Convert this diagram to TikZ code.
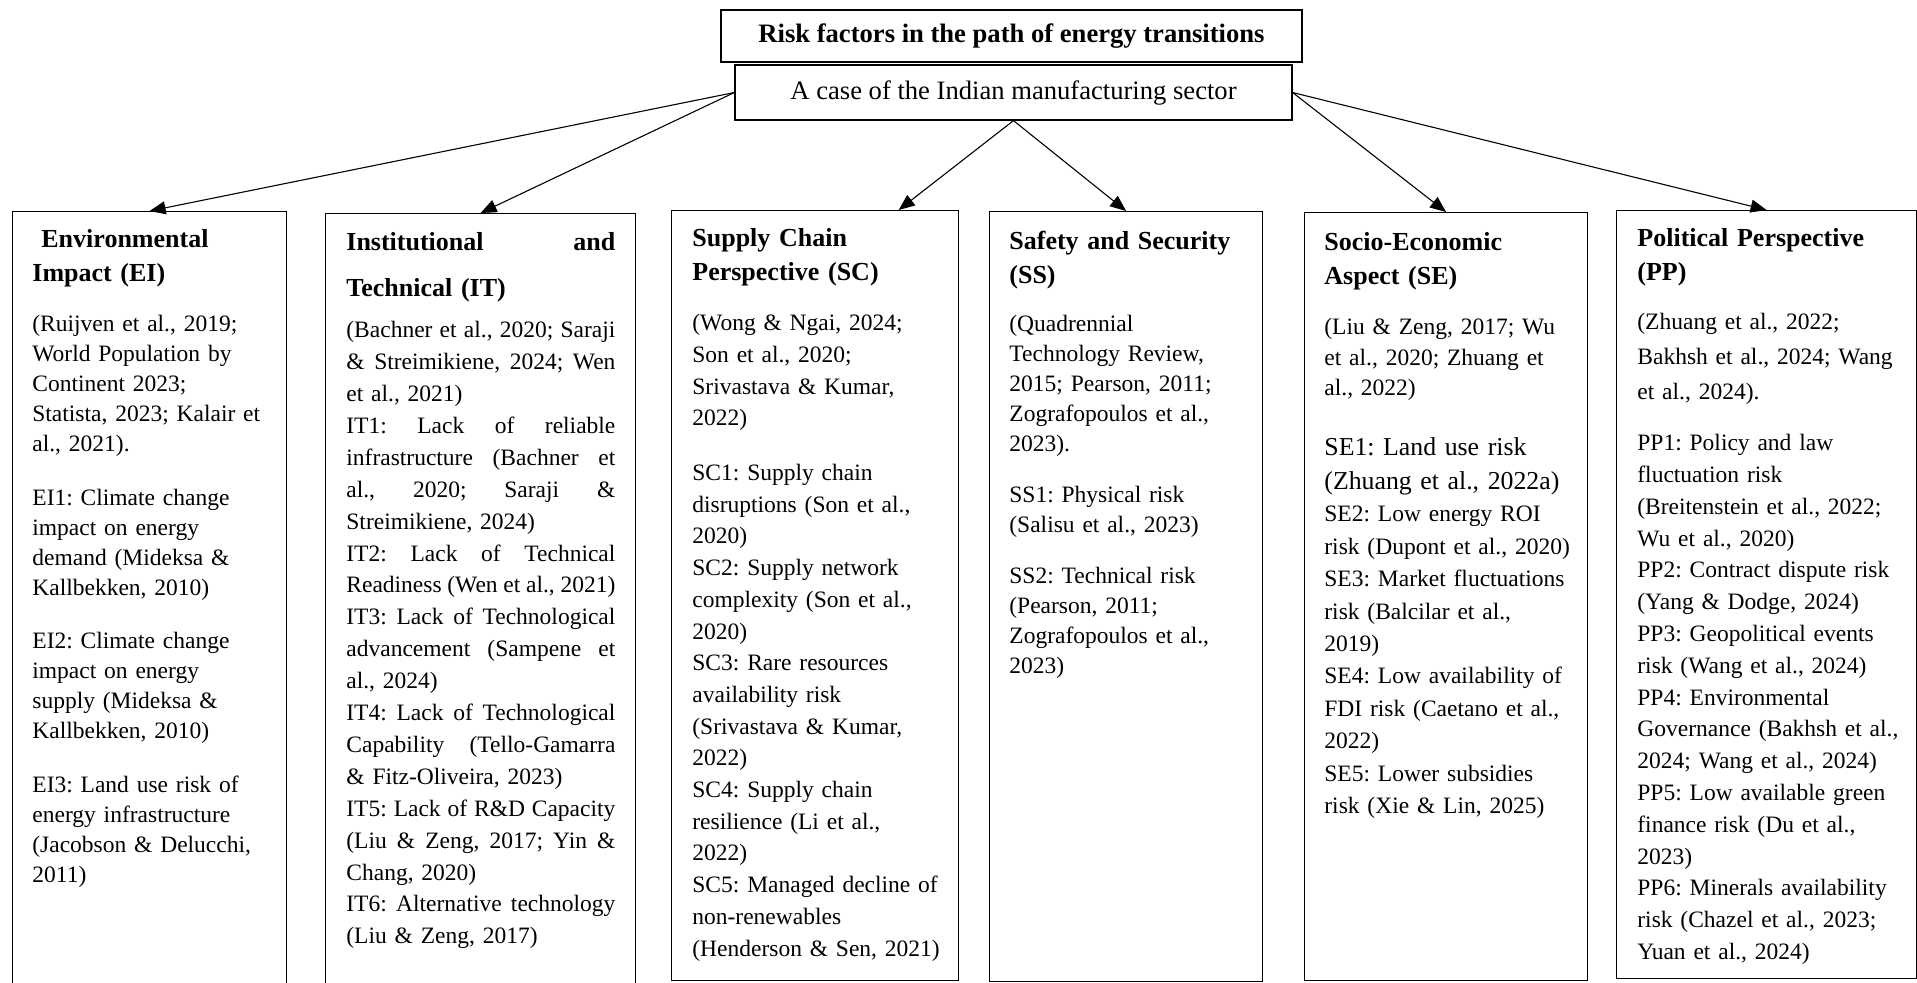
\documentclass[tikz,border=0pt]{standalone}
\usepackage{fontspec}
\setmainfont{Liberation Serif}
\usetikzlibrary{arrows.meta,calc}

% a line whose interword spaces stretch to the full column width
\newcommand\jl[1]{{\spaceskip=0.25em plus 1fil minus 0.09em\makebox[134.5pt][s]{#1}}}

\tikzset{
  frame/.style={draw, line width=0.6pt, inner sep=0pt, anchor=north west},
  titlebox/.style={draw, line width=0.6pt, inner sep=0pt},
  head/.style={anchor=north west, inner sep=0pt, align=left, text width=150pt,
    font=\fontsize{13}{17}\selectfont\bfseries},
  body/.style={anchor=north west, inner sep=0pt, align=left, text width=150pt},
  link/.style={line width=0.55pt, -{Triangle[length=8pt,width=6.5pt]}},
}

\begin{document}
\frenchspacing
\begin{tikzpicture}[x=0.5pt, y=-0.5pt]
\useasboundingbox (0,0) rectangle (1917,982);
\clip (0,0) rectangle (1917,982);

% title and subtitle
\node[titlebox, minimum width=290.5pt, minimum height=26pt,
      font=\fontsize{13.3}{16}\selectfont\bfseries] (title) at (1011.5,36)
      {Risk factors in the path of energy transitions};
\node[titlebox, minimum width=278.5pt, minimum height=27.5pt,
      font=\fontsize{13.3}{16}\selectfont, fill=white] (sub) at (1013.5,92.5)
      {A case of the Indian manufacturing sector};

% category frames
\node[frame, minimum width=137pt,   minimum height=389.5pt] (ei) at (12,211) {};
\node[frame, minimum width=155pt,   minimum height=389.5pt] (it) at (325,213) {};
\node[frame, minimum width=143.5pt, minimum height=385pt]   (sc) at (671,210) {};
\node[frame, minimum width=136.5pt, minimum height=385pt]   (ss) at (989,211) {};
\node[frame, minimum width=141.5pt, minimum height=384pt]   (se) at (1304,212) {};
\node[frame, minimum width=150pt,   minimum height=384pt]   (pp) at (1616,210) {};

\coordinate (scin) at ($(sc.north west)!0.79!(sc.north east)$);

% connectors
\draw[link] (sub.west)  -- (ei.north);
\draw[link] (sub.west)  -- (it.north);
\draw[link] (sub.south) -- (scin);
\draw[link] (sub.south) -- (ss.north);
\draw[link] (sub.east)  -- (se.north);
\draw[link] (sub.east)  -- (pp.north);

% Environmental Impact
\node[head] (eih) at (32,229.5) {\hspace{4.5pt}Environmental\\Impact (EI)};
\node[body, font=\fontsize{11.75}{15}\selectfont] (eib) at (32,315) {%
(Ruijven et al., 2019;\\ World Population by\\ Continent 2023;\\ Statista, 2023; Kalair et\\ al., 2021).\par\vspace{11.8pt}
EI1: Climate change\\ impact on energy\\ demand (Mideksa \&\\ Kallbekken, 2010)\par\vspace{11.8pt}
EI2: Climate change\\ impact on energy\\ supply (Mideksa \&\\ Kallbekken, 2010)\par\vspace{11.8pt}
EI3: Land use risk of\\ energy infrastructure\\ (Jacobson \& Delucchi,\\ 2011)};

% Institutional and Technical
\node[head, text width=134.5pt, font=\fontsize{13}{23}\selectfont\bfseries] (ith) at (346,232)
  {Institutional\hfill and\\Technical (IT)};
\node[body, text width=134.5pt, font=\fontsize{11.75}{15.95}\selectfont] (itb) at (346,321) {%
\jl{(Bachner et al., 2020; Saraji}\\ \jl{\& Streimikiene, 2024; Wen}\\ et al., 2021)\\
\jl{IT1: Lack of reliable}\\ \jl{infrastructure (Bachner et}\\ \jl{al., 2020; Saraji \&}\\ Streimikiene, 2024)\\
\jl{IT2: Lack of Technical}\\ \jl{Readiness (Wen et al., 2021)}\\
\jl{IT3: Lack of Technological}\\ \jl{advancement (Sampene et}\\ al., 2024)\\
\jl{IT4: Lack of Technological}\\ \jl{Capability (Tello-Gamarra}\\ \& Fitz-Oliveira, 2023)\\
\jl{IT5: Lack of R\&D Capacity}\\ \jl{(Liu \& Zeng, 2017; Yin \&}\\ Chang, 2020)\\
\jl{IT6: Alternative technology}\\ (Liu \& Zeng, 2017)};

% Supply Chain Perspective
\node[head] (sch) at (692,228) {Supply Chain\\Perspective (SC)};
\node[body, font=\fontsize{11.75}{15.85}\selectfont] (scb) at (692,314) {%
(Wong \& Ngai, 2024;\\ Son et al., 2020;\\ Srivastava \& Kumar,\\ 2022)\par\vspace{11.5pt}
SC1: Supply chain\\ disruptions (Son et al.,\\ 2020)\\
SC2: Supply network\\ complexity (Son et al.,\\ 2020)\\
SC3: Rare resources\\ availability risk\\ (Srivastava \& Kumar,\\ 2022)\\
SC4: Supply chain\\ resilience (Li et al.,\\ 2022)\\
SC5: Managed decline of\\ non-renewables\\ (Henderson \& Sen, 2021)};

% Safety and Security
\node[head] (ssh) at (1009,231) {Safety and Security\\(SS)};
\node[body, font=\fontsize{11.75}{15}\selectfont] (ssb) at (1009,315) {%
(Quadrennial\\ Technology Review,\\ 2015; Pearson, 2011;\\ Zografopoulos et al.,\\ 2023).\par\vspace{10.5pt}
SS1: Physical risk\\ (Salisu et al., 2023)\par\vspace{10.5pt}
SS2: Technical risk\\ (Pearson, 2011;\\ Zografopoulos et al.,\\ 2023)};

% Socio-Economic Aspect
\node[head] (seh) at (1324,232) {Socio-Economic\\Aspect (SE)};
\node[body, font=\fontsize{11.75}{15.25}\selectfont] (seb) at (1324,318) {%
(Liu \& Zeng, 2017; Wu\\ et al., 2020; Zhuang et\\ al., 2022)};
\node[body, font=\fontsize{12.9}{17}\selectfont] (se1) at (1324,437) {%
SE1: Land use risk\\ (Zhuang et al., 2022a)};
\node[body, font=\fontsize{11.75}{16.2}\selectfont] (sec) at (1324,506) {%
SE2: Low energy ROI\\ risk (Dupont et al., 2020)\\
SE3: Market fluctuations\\ risk (Balcilar et al.,\\ 2019)\\
SE4: Low availability of\\ FDI risk (Caetano et al.,\\ 2022)\\
SE5: Lower subsidies\\ risk (Xie \& Lin, 2025)};

% Political Perspective
\node[head] (pph) at (1637,228) {Political Perspective\\(PP)};
\node[body, font=\fontsize{11.75}{17.5}\selectfont] (ppa) at (1637,313) {%
(Zhuang et al., 2022;\\ Bakhsh et al., 2024; Wang\\ et al., 2024).};
\node[body, font=\fontsize{11.75}{15.9}\selectfont] (ppb) at (1637,434) {%
PP1: Policy and law\\ fluctuation risk\\ (Breitenstein et al., 2022;\\ Wu et al., 2020)\\
PP2: Contract dispute risk\\ (Yang \& Dodge, 2024)\\
PP3: Geopolitical events\\ risk (Wang et al., 2024)\\
PP4: Environmental\\ Governance (Bakhsh et al.,\\ 2024; Wang et al., 2024)\\
PP5: Low available green\\ finance risk (Du et al.,\\ 2023)\\
PP6: Minerals availability\\ risk (Chazel et al., 2023;\\ Yuan et al., 2024)};
\end{tikzpicture}
\end{document}
